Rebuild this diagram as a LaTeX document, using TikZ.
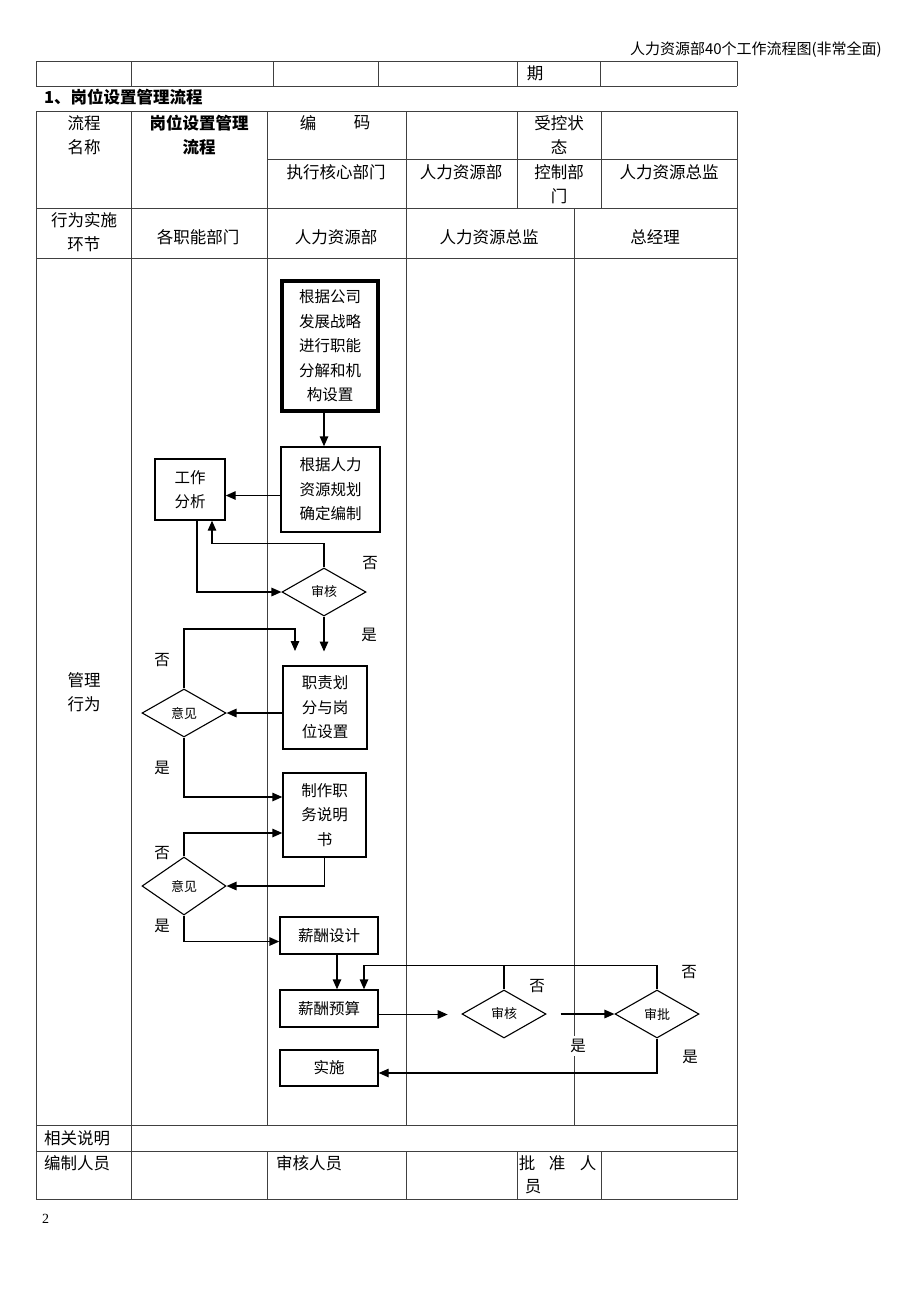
\documentclass[tikz,border=0pt]{standalone}
\usepackage{fontspec}
\setmainfont{Noto Sans CJK SC}
\newfontfamily\serifnum{Liberation Serif}
\usetikzlibrary{arrows.meta,shapes.geometric}
\begin{document}
\begin{tikzpicture}[x=1pt,y=-1pt,
 tl/.style={line width=0.9pt, draw=black!75},
 fl/.style={line width=1.4pt},
 arr/.style={fl, -{Triangle[length=10pt,width=8.5pt]}},
 box/.style={draw, fl, inner sep=0pt, align=center, font=\fontsize{15.5}{24.5}\selectfont},
 dia/.style={draw, line width=1.1pt, diamond, inner sep=0pt, font=\fontsize{13}{15}\selectfont},
 lab/.style={font=\fontsize{15.5}{18}\selectfont, inner sep=1pt},
 cell/.style={font=\fontsize{16.5}{24}\selectfont, align=center, inner sep=0pt},
]
\useasboundingbox[fill=white] (0,0) rectangle (920,1302);

% page header
\node[anchor=east, font=\fontsize{15}{18}\selectfont, inner sep=0pt] (hdr) at (882,50) {人力资源部40个工作流程图(非常全面)};

% top partial table
\draw[tl] (36,61) -- (737,61) (36,86) -- (737,86);
\foreach \x in {36,131,273,378,517,600,737} \draw[tl] (\x,61) -- (\x,86);
\node[cell] (qi) at (535,73) {期};

% title
\node[anchor=west, font=\fontsize{16.5}{20}\selectfont\bfseries, inner sep=0pt] (title) at (44,97) {1、岗位设置管理流程};

% main table
\draw[tl] (36,111) rectangle (737,1199);
\draw[tl] (267,159) -- (737,159);
\draw[tl] (36,208) -- (737,208) (36,258) -- (737,258) (36,1125) -- (737,1125) (36,1151) -- (737,1151);
\draw[tl] (131,111) -- (131,1199);
\draw[tl] (267,111) -- (267,1125) (267,1151) -- (267,1199);
\draw[tl] (406,111) -- (406,1125) (406,1151) -- (406,1199);
\draw[tl] (517,111) -- (517,208) (517,1151) -- (517,1199);
\draw[tl] (601,111) -- (601,208) (601,1151) -- (601,1199);
\draw[tl] (574,208) -- (574,1125);

% table texts
\node[cell] (t1) at (84,135) {流程\\名称};
\node[cell, font=\fontsize{16.5}{24}\selectfont\bfseries] (t2) at (199,135) {岗位设置管理\\流程};
\node[cell] (t3a) at (308,123) {编};
\node[cell] (t3b) at (362,123) {码};
\node[cell] (t4) at (559,135) {受控状\\态};
\node[cell] (t5) at (336,172) {执行核心部门};
\node[cell] (t6) at (461,172) {人力资源部};
\node[cell] (t7) at (559,184) {控制部\\门};
\node[cell] (t8) at (669,172) {人力资源总监};
\node[cell] (t9) at (84,232) {行为实施\\环节};
\node[cell] (l1) at (198,237) {各职能部门};
\node[cell] (l2) at (336,237) {人力资源部};
\node[cell] (l3) at (489,237) {人力资源总监};
\node[cell] (l4) at (655,237) {总经理};
\node[cell] (gl) at (84,692) {管理\\行为};
\node[cell, anchor=west] (xg) at (44,1138) {相关说明};
\node[cell, anchor=west] (bz) at (44,1163) {编制人员};
\node[cell, anchor=west] (sh) at (276,1163) {审核人员};
\node[cell] (pz1) at (527,1163) {批};
\node[cell] (pz2) at (557,1163) {准};
\node[cell] (pz3) at (588,1163) {人};
\node[cell] (pz4) at (533,1187) {员};
\node[anchor=west, font=\serifnum\fontsize{14}{16}\selectfont, inner sep=0pt] (pg) at (42,1219) {2};

% flowchart nodes
\node[box, line width=3.5pt, minimum width=96, minimum height=130] (b1) at (330,346) {根据公司\\发展战略\\进行职能\\分解和机\\构设置};
\node[box, minimum width=99, minimum height=85] (b2) at (330.5,489.5) {根据人力\\资源规划\\确定编制};
\node[box, minimum width=70, minimum height=61] (ga) at (190,489.5) {工作\\分析};
\node[dia, minimum width=84, minimum height=48] (d1) at (324,592) {审核};
\node[box, minimum width=84, minimum height=83] (zz) at (325,707.5) {职责划\\分与岗\\位设置};
\node[dia, minimum width=84, minimum height=48] (yj1) at (184,713) {意见};
\node[box, minimum width=83, minimum height=84] (zs) at (324.5,815) {制作职\\务说明\\书};
\node[dia, minimum width=84, minimum height=58] (yj2) at (184,886) {意见};
\node[box, minimum width=98, minimum height=37] (xc) at (329,935.5) {薪酬设计};
\node[box, minimum width=98, minimum height=37] (ys) at (329,1008.5) {薪酬预算};
\node[box, minimum width=98, minimum height=36] (ss) at (329,1068) {实施};
\node[dia, minimum width=84, minimum height=48] (d2) at (504,1014) {审核};
\node[dia, minimum width=84, minimum height=48] (d3) at (657,1014) {审批};

% connectors
\draw[arr] (b1.south -| d1) -- (b2.north -| d1);
\draw[arr] ([yshift=-6pt]b2.west) -- ([yshift=-6pt]ga.east);
\draw[arr] (d1.north) -- ++(0,-24) -| ([xshift=22pt]ga.south);
\draw[arr] ([xshift=7pt]ga.south) |- (d1.west);
\draw[arr] (d1.south) -- ++(0,35);
\draw[arr] (yj1.north) |- (295,629) -- (295,651);
\draw[arr] (zz.west |- yj1.east) -- (yj1.east);
\draw[arr] (yj1.south) |- ([yshift=18pt]zs.west);
\draw[arr] (yj2.north) |- ([yshift=-18pt]zs.west);
\draw[arr] (zs.south) |- (yj2.east);
\draw[arr] (yj2.south) |- ([yshift=-6pt]xc.west);
\draw[arr] ([xshift=8pt]xc.south) -- ([xshift=8pt]ys.north);
\draw[arr] ([yshift=-6pt]ys.east) -- ++(69,0);
\draw[arr] ([xshift=14pt]d2.east) -- (d3.west);
\draw[arr] (d3.north) -- ++(0,-24) -| ([xshift=35pt]ys.north);
\draw[fl] (d2.north) -- ++(0,-24);
\draw[arr] (d3.south) |- ([yshift=-5pt]ss.east);

% labels
\node[lab] (n1) at (370,563) {否};
\node[lab] (y1) at (369,635) {是};
\node[lab] (n2) at (162,660) {否};
\node[lab] (y2) at (162,768) {是};
\node[lab] (n3) at (162,853) {否};
\node[lab] (y3) at (162,926) {是};
\node[lab] (n4) at (537,986) {否};
\node[lab] (n5) at (689,972) {否};
\node[lab, fill=white, inner sep=3pt] (y4) at (578,1046) {是};
\node[lab] (y5) at (690,1057) {是};
\end{tikzpicture}
\end{document}
